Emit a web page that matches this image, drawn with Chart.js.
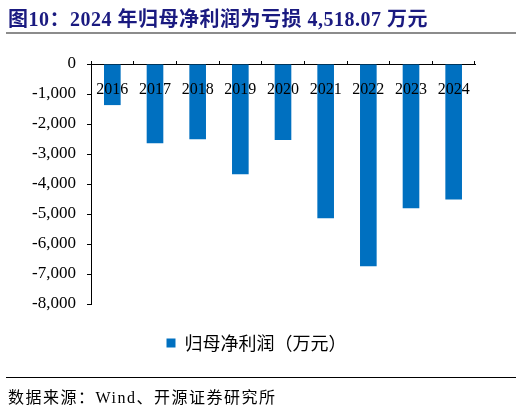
<!DOCTYPE html>
<html>
<head>
<meta charset="utf-8">
<script src="https://cdn.jsdelivr.net/npm/chart.js@4"></script>
<style>
  html, body { margin: 0; padding: 0; background: #fff; }
  #wrap { position: relative; width: 522px; height: 408px; overflow: hidden; }
  #title { position: absolute; left: 8px; top: 3px; font: bold 20px "Liberation Serif", "Noto Sans CJK SC"; letter-spacing: 0.5px; color: #1a1a80; white-space: nowrap; }
  #rule-top { position: absolute; left: 6px; top: 32px; width: 510px; height: 2px; background: #8c8c8c; }
  #rule-bottom { position: absolute; left: 6px; top: 377px; width: 510px; height: 1px; background: #000; }
  #source { position: absolute; left: 8px; top: 384px; font: 16px "Liberation Serif", "Noto Sans CJK SC"; letter-spacing: 1.5px; color: #000; white-space: nowrap; }
  #chart-box { position: absolute; left: 0; top: 0; width: 522px; height: 408px; }
</style>
</head>
<body>
<div id="wrap">
  <div id="chart-box"><canvas id="profitChart"></canvas></div>
  <div id="title">图10：2024 年归母净利润为亏损 4,518.07 万元</div>
  <div id="rule-top"></div>
  <div id="rule-bottom"></div>
  <div id="source">数据来源：Wind、开源证券研究所</div>
</div>
<script>
const years = ['2016', '2017', '2018', '2019', '2020', '2021', '2022', '2023', '2024'];
const netProfit = [-1370, -2640, -2510, -3675, -2530, -5140, -6745, -4810, -4518.07];
const seriesName = '归母净利润（万元）';
const yTicks = { min: -8000, max: 0, step: 1000 };

const ctx = document.getElementById('profitChart').getContext('2d');
new Chart(ctx, {
  type: 'bar',
  data: {
    labels: years,
    datasets: [{
      label: seriesName,
      data: netProfit,
      backgroundColor: '#0070c0',
      borderWidth: 0,
      barPercentage: 0.39,
      categoryPercentage: 1,
    }],
  },
  options: {
    responsive: true, maintainAspectRatio: false,
    animation: false,
    layout: { padding: { left: 0, right: 9, top: 64, bottom: 46 } },
    plugins: {
      tooltip: { enabled: false },
      legend: {
        position: 'bottom',
        labels: {
          boxWidth: 9, boxHeight: 9, padding: 30, color: '#000',
          font: { family: '"Noto Sans CJK SC"', size: 18 },
        },
      },
    },
    scales: {
      x: {
        position: { y: 0 },
        grid: { drawOnChartArea: false, tickLength: -4, color: '#000', offset: true },
        border: { color: '#000', width: 1 },
        ticks: { z: 1, color: '#000', padding: 20, font: { family: '"Liberation Serif"', size: 16 } },
      },
      y: {
        min: yTicks.min, max: yTicks.max,
        afterFit: s => { s.width = 91; },
        grid: { drawOnChartArea: false, tickLength: 4, color: '#000' },
        border: { color: '#000', width: 1 },
        ticks: {
          stepSize: yTicks.step, color: '#000', padding: 11,
          font: { family: '"Liberation Serif"', size: 17 },
          callback: v => v.toLocaleString('en-US'),
        },
      },
      // empty right-hand spacer so the plot ends where the original does
      spacer: {
        type: 'linear', position: 'right',
        afterFit: s => { s.width = 38; },
        grid: { display: false }, border: { display: false }, ticks: { display: false },
      },
    },
  },
});
</script>
</body>
</html>
